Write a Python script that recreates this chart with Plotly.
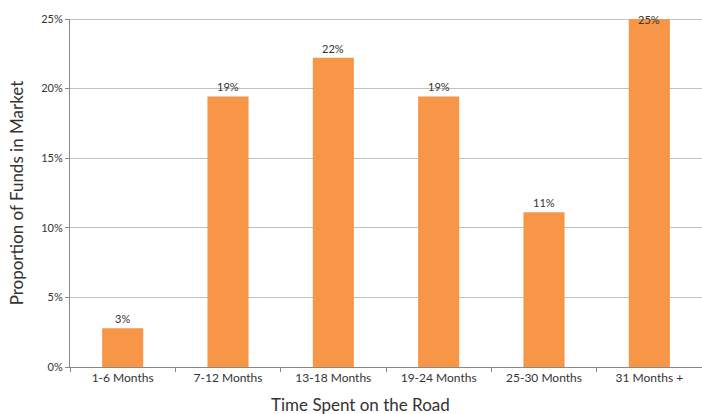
import plotly.graph_objects as go

categories = ["1-6 Months", "7-12 Months", "13-18 Months", "19-24 Months", "25-30 Months", "31 Months +"]
values = [0.0278, 0.1944, 0.2222, 0.1944, 0.1111, 0.25]
labels = ["3%", "19%", "22%", "19%", "11%", "25%"]

FONT = "Lato, 'Open Sans', sans-serif"
YMAX = 0.25

fig = go.Figure(go.Bar(
    x=categories, y=values,
    marker=dict(color="#F79646", line=dict(width=0)),
    width=0.39, cliponaxis=False,
))

annotations = []
for c, v, t in zip(categories, values, labels):
    at_top = v >= YMAX
    annotations.append(dict(
        x=c, y=v, xref="x", yref="y", text=t, showarrow=False,
        yanchor="middle" if at_top else "bottom", yshift=0 if at_top else 1,
        font=dict(size=11, color="#333333", family=FONT),
    ))
annotations.append(dict(
    x=0.46, y=0, xref="paper", yref="paper", yanchor="top", yshift=-25,
    text="Time Spent on the Road", showarrow=False,
    font=dict(size=17, color="#333333", family=FONT),
))

fig.update_layout(
    width=702, height=414,
    margin=dict(l=70, r=0, t=19, b=47),
    paper_bgcolor="white", plot_bgcolor="white",
    font=dict(family=FONT, color="#333333"),
    showlegend=False,
    annotations=annotations,
    xaxis=dict(
        tickfont=dict(size=12, color="#333333"),
        showline=True, linecolor="#888888", linewidth=1,
        ticks="outside", ticklen=4, tickcolor="#888888", tickson="boundaries",
        showgrid=False,
    ),
    yaxis=dict(
        title=dict(text="Proportion of Funds in Market", font=dict(size=17, color="#333333"), standoff=13),
        tickfont=dict(size=11, color="#333333"),
        range=[0, YMAX], tickvals=[0, 0.05, 0.10, 0.15, 0.20, 0.25],
        tickformat=".0%",
        showline=True, linecolor="#888888", linewidth=1,
        ticks="outside", ticklen=4, tickcolor="#888888",
        showgrid=True, gridcolor="#c0c0c0", gridwidth=1,
        zeroline=False,
    ),
    shapes=[dict(type="line", xref="paper", yref="y", x0=0, x1=1, y0=YMAX, y1=YMAX,
                 line=dict(color="#888888", width=1), layer="below")],
)

fig.write_html("out.html")
